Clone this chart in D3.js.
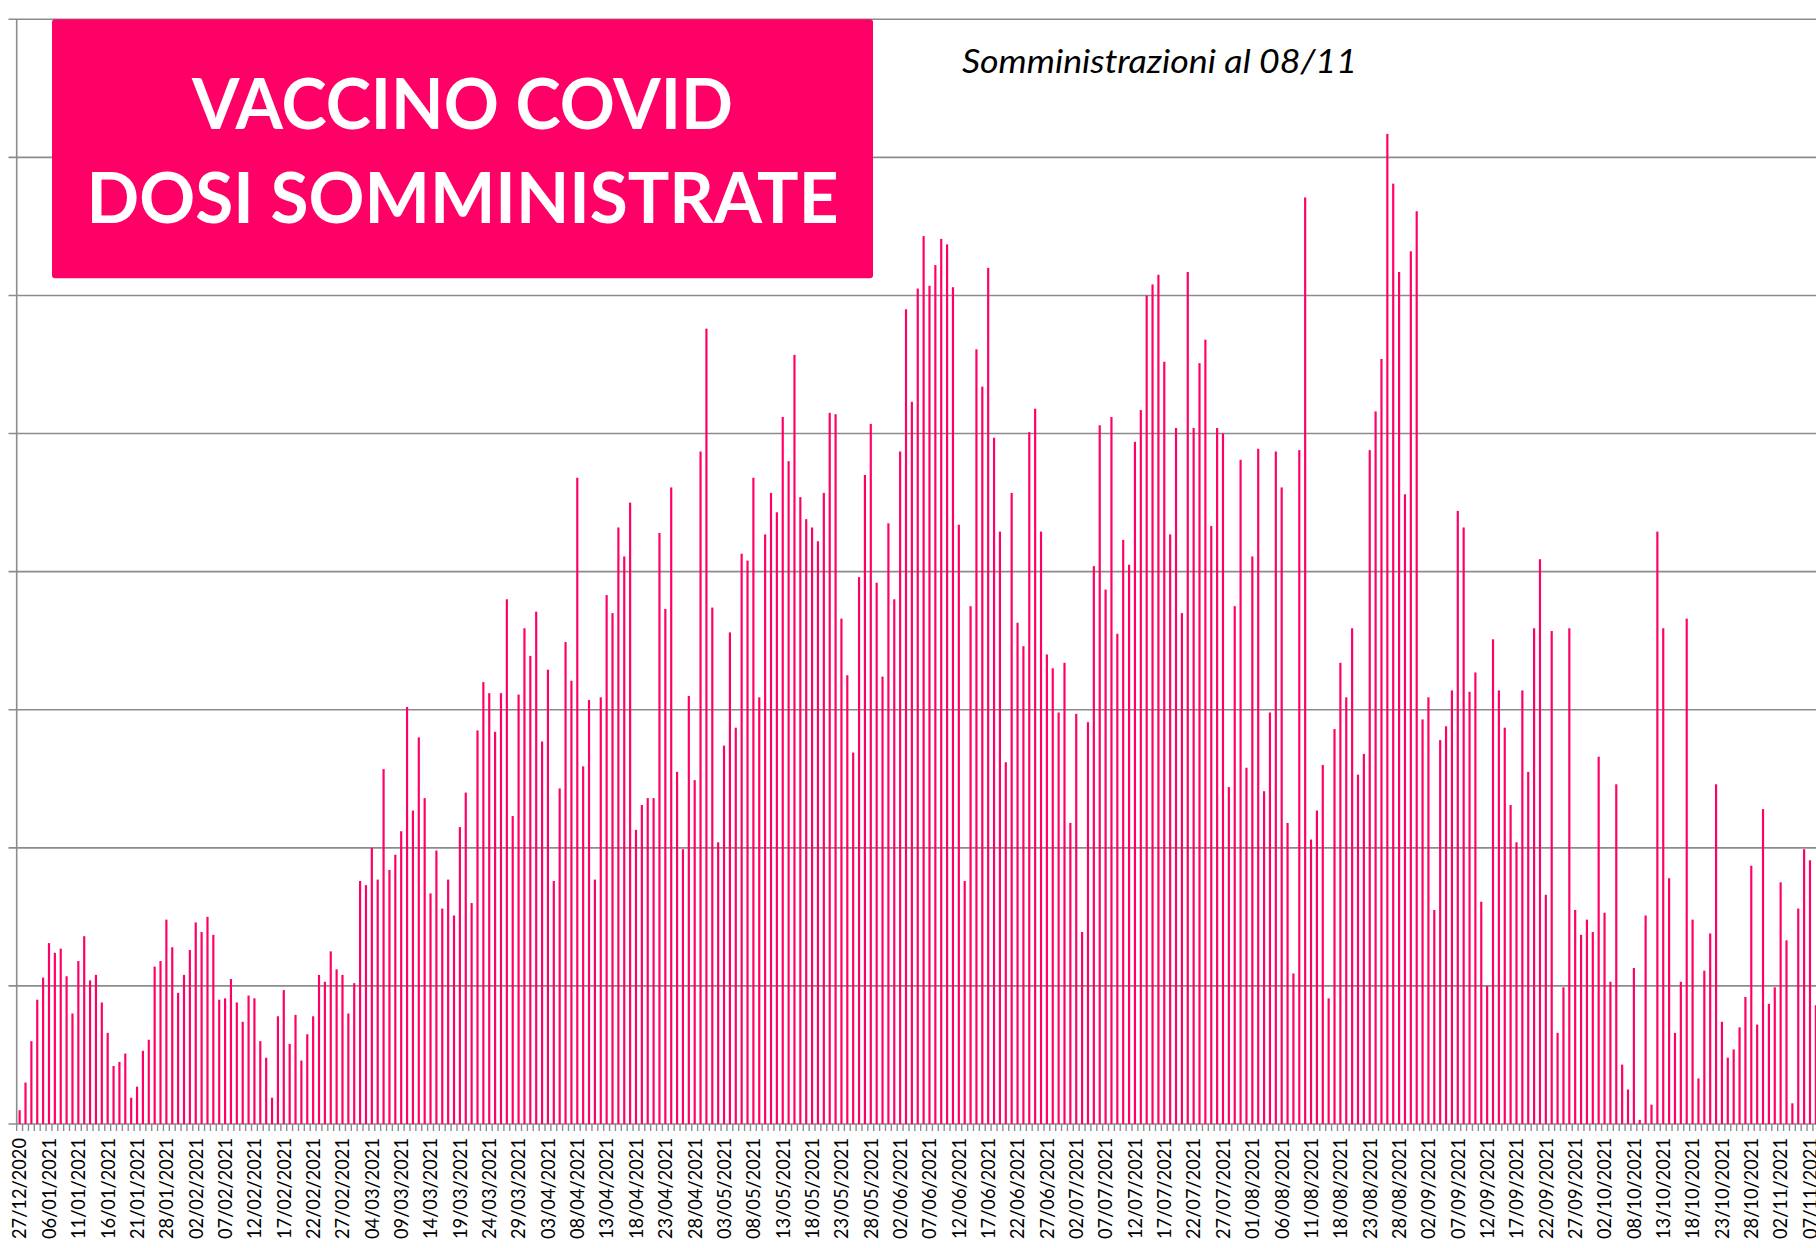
<!DOCTYPE html>
<html><head><meta charset="utf-8">
<script src="https://cdn.jsdelivr.net/npm/d3@7"></script>
<style>
html,body{margin:0;padding:0;background:#fff;overflow:hidden;}
svg{display:block;}
</style></head><body>
<script>
// Category tick labels (one every 5 categories)
const tickLabels = ["27/12/2020","06/01/2021","11/01/2021","16/01/2021","21/01/2021","28/01/2021","02/02/2021","07/02/2021","12/02/2021","17/02/2021","22/02/2021","27/02/2021","04/03/2021","09/03/2021","14/03/2021","19/03/2021","24/03/2021","29/03/2021","03/04/2021","08/04/2021","13/04/2021","18/04/2021","23/04/2021","28/04/2021","03/05/2021","08/05/2021","13/05/2021","18/05/2021","23/05/2021","28/05/2021","02/06/2021","07/06/2021","12/06/2021","17/06/2021","22/06/2021","27/06/2021","02/07/2021","07/07/2021","12/07/2021","17/07/2021","22/07/2021","27/07/2021","01/08/2021","06/08/2021","11/08/2021","18/08/2021","23/08/2021","28/08/2021","02/09/2021","07/09/2021","12/09/2021","17/09/2021","22/09/2021","27/09/2021","02/10/2021","08/10/2021","13/10/2021","18/10/2021","23/10/2021","28/10/2021","02/11/2021","07/11/2021"];

// Daily administered doses (one value per category)
const doses = [
200,600,1200,1800,2120,2620,2480,2540,2140,1600,2360,2720,2080,2160,1760,1320,840,900,1020,380,540,1060,1220,2280,2360,2960,2560,
1900,2160,2520,2920,2780,3000,2740,1800,1820,2100,1760,1480,1860,1820,1200,960,380,1560,1940,1160,1580,920,1300,1560,2160,2060,2500,2240,
2160,1600,2040,3520,3460,4000,3540,5140,3680,3900,4240,6040,4540,5600,4720,3340,3960,3120,3540,3020,4300,4800,3200,5700,6400,6240,5680,6240,
7600,4460,6220,7180,6780,7420,5540,6580,3520,4860,6980,6420,9360,5180,6140,3540,6180,7660,7400,8640,8220,9000,4260,4620,4720,4720,8560,7460,
9220,5100,3980,6200,4980,9740,11520,7480,4080,5480,7120,5740,8260,8160,9360,6180,8540,9140,8860,10240,9600,11140,9080,8760,8640,8440,9140,10300,
10280,7320,6500,5380,7920,9400,10140,7840,6480,8700,7600,9740,11800,10460,12100,12860,12140,12440,12820,12740,12120,8680,3520,7500,11220,10680,12400,9940,
8580,5240,9140,7260,6920,10020,10360,8580,6800,6600,5960,6680,4360,5940,2780,5820,8080,10120,7740,10240,7100,8460,8100,9880,10340,12000,12160,12300,
11040,8540,10080,7400,12340,10080,11020,11360,8660,10080,10000,4880,7500,9620,5160,8220,9780,4820,5960,9740,9220,4360,2180,9760,13420,4120,4540,5200,
1820,5720,6680,6180,7180,5060,5360,9760,10320,11080,14340,13620,12340,9120,12640,13220,5860,6180,3100,5560,5760,6280,8880,8640,6260,6540,3220,2000,
7020,6280,5740,4620,4080,6280,5100,7180,8180,3320,7140,1320,1980,7180,3100,2740,2960,2780,5320,3060,2060,4920,860,500,2260,60,3020,280,
8580,7180,3560,1320,2060,7320,2960,660,2220,2760,4920,1480,960,1080,1400,1840,3740,1440,4560,1740,1980,3500,2660,300,3120,3980,3820,1720
];

const yTicks = [0,2000,4000,6000,8000,10000,12000,14000,16000];
const titleLines = ["VACCINO COVID","DOSI SOMMINISTRATE"];
const subtitle = "Somministrazioni al 08/11";

const W = 1816, H = 1248;
const PINK = "#ff0066", GRID = "#8c8c8c";
const svg = d3.select("body").append("svg").attr("width", W).attr("height", H);

const x0 = 16.7, stepPx = 5.87, pad = 0.63;
const x = d3.scaleBand()
  .domain(d3.range(doses.length))
  .range([x0, x0 + stepPx * doses.length])
  .paddingInner(pad).paddingOuter(pad / 2);
const y = d3.scaleLinear().domain([0, 16000]).range([1124, 19.3]);
const step = x.step();
const center = i => x(i) + x.bandwidth() / 2;

// gridlines
svg.append("g").selectAll("line").data(yTicks).join("line")
  .attr("x1", 8.5).attr("x2", W)
  .attr("y1", d => y(d)).attr("y2", d => y(d))
  .attr("stroke", GRID).attr("stroke-width", 1.6);

// bars
svg.append("g").selectAll("rect").data(doses).join("rect")
  .attr("x", (d, i) => x(i)).attr("width", x.bandwidth())
  .attr("y", d => y(d)).attr("height", d => y(0) - y(d))
  .attr("fill", PINK);

// y axis line
svg.append("line").attr("x1", x0).attr("x2", x0).attr("y1", y(16000)).attr("y2", y(0))
  .attr("stroke", GRID).attr("stroke-width", 1.6);

// x axis ticks between categories
const bounds = d3.range(doses.length + 1).map(i => x0 + i * step);
svg.append("g").selectAll("line").data(bounds).join("line")
  .attr("x1", d => d).attr("x2", d => d)
  .attr("y1", y(0)).attr("y2", y(0) + 7)
  .attr("stroke", GRID).attr("stroke-width", 1.4);

// x labels
svg.append("g").selectAll("text").data(tickLabels).join("text")
  .attr("transform", (d, k) => `translate(${center(k * 5)},1138) rotate(-90)`)
  .attr("text-anchor", "end").attr("dy", "0.36em")
  .attr("font-family", "Lato, 'Open Sans', sans-serif").attr("font-size", 19)
  .attr("textLength", 101).attr("lengthAdjust", "spacingAndGlyphs")
  .attr("fill", "#000").text(d => d);

// title box
svg.append("rect").attr("x", 52).attr("y", 19.3).attr("width", 821).attr("height", 259)
  .attr("rx", 3).attr("fill", PINK);
const tl = [{t: titleLines[0], y: 128.5, w: 541}, {t: titleLines[1], y: 223.3, w: 752}];
svg.append("g").selectAll("text").data(tl).join("text")
  .attr("x", 462.5).attr("y", d => d.y).attr("text-anchor", "middle")
  .attr("font-family", "Lato, 'Open Sans', sans-serif").attr("font-weight", 700)
  .attr("font-size", 71).attr("fill", "#fff")
  .attr("textLength", d => d.w).attr("lengthAdjust", "spacingAndGlyphs")
  .text(d => d.t);

// subtitle
svg.append("text").attr("x", 962).attr("y", 73.3)
  .attr("font-family", "Lato, 'Open Sans', sans-serif").attr("font-style", "italic")
  .attr("font-size", 32).attr("fill", "#000")
  .attr("textLength", 395).attr("lengthAdjust", "spacingAndGlyphs")
  .text(subtitle);
</script>
</body></html>
